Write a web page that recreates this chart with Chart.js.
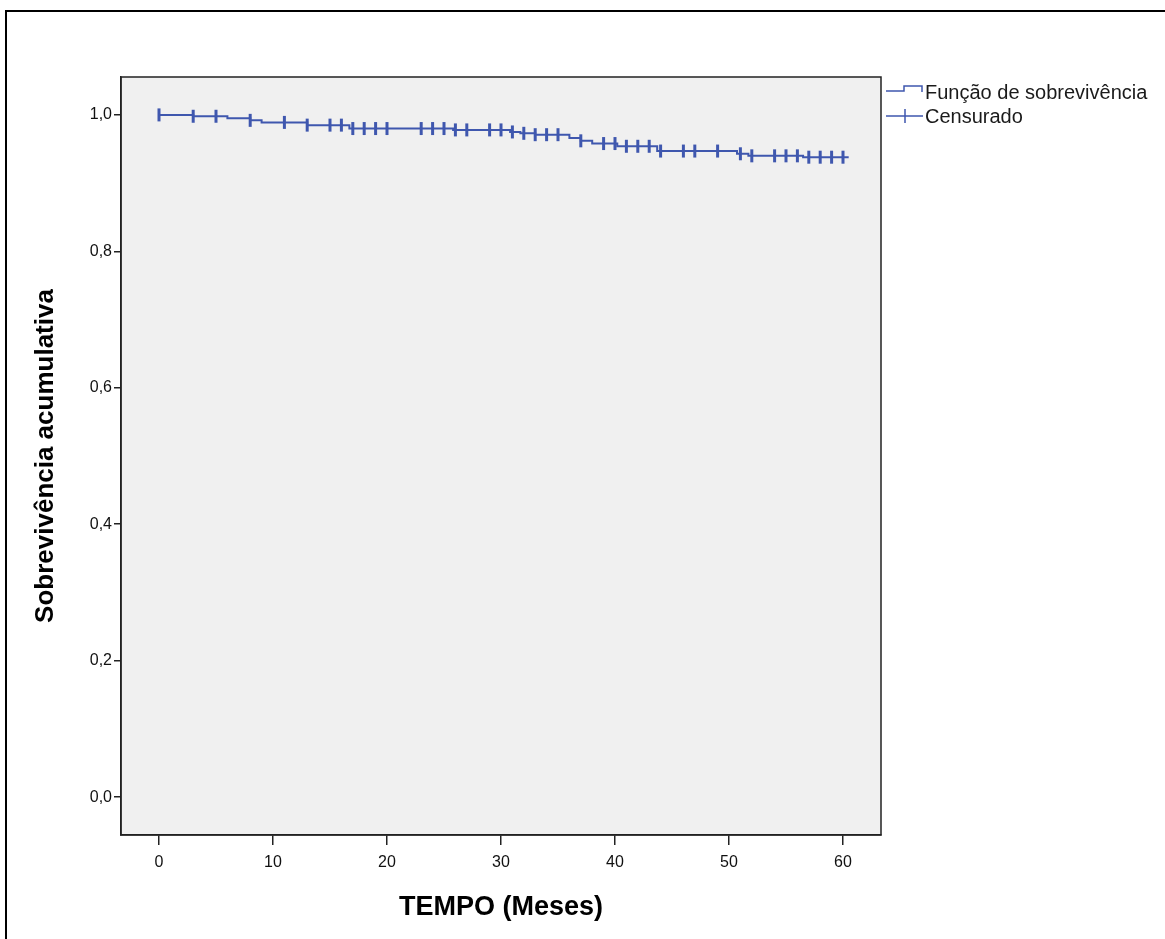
<!DOCTYPE html>
<html><head><meta charset="utf-8">
<script src="https://cdn.jsdelivr.net/npm/chart.js@4.4.0/dist/chart.umd.min.js"></script>
<style>html,body{margin:0;padding:0;background:#fff;} canvas{display:block;}</style>
</head><body>
<canvas id="c" width="1165" height="939"></canvas>
<script>
// Kaplan-Meier step function: event times and survival after each event
const eventTimes     = [0,     3,     6,     8,     9,     13,    16.7,  25.8,  30.8,  31.7,  33,    36,    37,    38,    40.2,  43.7,  50.7,  51.7,  56.5,  60.5];
const survivalValues = [1.000, 0.998, 0.995, 0.992, 0.989, 0.985, 0.980, 0.978, 0.975, 0.973, 0.971, 0.966, 0.962, 0.958, 0.954, 0.947, 0.943, 0.940, 0.938, 0.938];
// Censored observation times
const censorTimes = [0,3,5,8,11,13,15,16,17,18,19,20,23,24,25,26,27,29,30,31,32,33,34,35,37,39,40,41,42,43,44,46,47,49,51,52,54,55,56,57,58,59,60];
const xTickValues = [0,10,20,30,40,50,60];
const xTickLabels = ['0','10','20','30','40','50','60'];
const yTickValues = [0,0.2,0.4,0.6,0.8,1.0];
const yTickLabels = ['0,0','0,2','0,4','0,6','0,8','1,0'];
const legendLabels = ['Função de sobrevivência','Censurado'];
const xAxisTitle = 'TEMPO (Meses)';
const yAxisTitle = 'Sobrevivência acumulativa';

const BLUE = '#3F57AE';
const FONT = '"Liberation Sans", Arial, sans-serif';

function survivalAt(t){
  let s = survivalValues[0];
  for (let i = 0; i < eventTimes.length; i++) { if (eventTimes[i] <= t) s = survivalValues[i]; }
  return s;
}

const framePlugin = {
  id: 'frame',
  beforeDraw(chart){
    const ctx = chart.ctx, a = chart.chartArea;
    ctx.save();
    ctx.fillStyle = '#fff';
    ctx.fillRect(0,0,chart.width,chart.height);
    ctx.strokeStyle = '#000'; ctx.lineWidth = 2;
    ctx.beginPath(); ctx.moveTo(6, chart.height+2); ctx.lineTo(6, 11); ctx.lineTo(chart.width+2, 11); ctx.stroke();
    ctx.fillStyle = '#F0F0F0';
    ctx.fillRect(a.left, a.top, a.right-a.left, a.bottom-a.top);
    ctx.restore();
  },
  afterDraw(chart){
    const ctx = chart.ctx, a = chart.chartArea;
    ctx.save();
    ctx.strokeStyle = '#222'; ctx.lineWidth = 1.5;
    ctx.strokeRect(a.left, a.top, a.right-a.left, a.bottom-a.top);
    // legend
    const lx = a.right + 5;
    ctx.strokeStyle = BLUE; ctx.lineWidth = 1.5;
    ctx.beginPath();
    ctx.moveTo(lx, 91); ctx.lineTo(lx+18, 91); ctx.lineTo(lx+18, 86); ctx.lineTo(lx+36, 86); ctx.lineTo(lx+36, 92);
    ctx.stroke();
    ctx.beginPath();
    ctx.moveTo(lx, 116); ctx.lineTo(lx+37, 116);
    ctx.moveTo(lx+19, 109); ctx.lineTo(lx+19, 123);
    ctx.stroke();
    ctx.fillStyle = '#1a1a1a';
    ctx.font = '20px ' + FONT;
    ctx.textBaseline = 'middle'; ctx.textAlign = 'left';
    ctx.fillText(legendLabels[0], lx+39, 93);
    ctx.fillText(legendLabels[1], lx+39, 117);
    ctx.restore();
  }
};

new Chart(document.getElementById('c'), {
  type: 'line',
  data: {
    datasets: [
      {
        label: legendLabels[0],
        data: eventTimes.map((t,i)=>({x:t, y:survivalValues[i]})),
        stepped: true,
        borderColor: BLUE,
        borderWidth: 2,
        pointRadius: 0,
        fill: false
      },
      {
        type: 'scatter',
        label: legendLabels[1],
        data: censorTimes.map(t=>({x:t, y:survivalAt(t)})),
        pointStyle: 'line',
        rotation: 90,
        pointRadius: 6.5,
        pointBorderWidth: 3,
        borderWidth: 3,
        borderColor: BLUE,
        backgroundColor: BLUE,
        showLine: false
      }
    ]
  },
  options: {
    responsive: false,
    animation: false,
    devicePixelRatio: 1,
    layout: { padding: { left: 0, top: 77, right: 284, bottom: 0 } },
    plugins: { legend: { display: false }, tooltip: { enabled: false } },
    scales: {
      x: {
        type: 'linear',
        min: -10/3, max: 190/3,
        afterBuildTicks: s => { s.ticks = xTickValues.map(v=>({value:v})); },
        afterFit: s => { s.height = 104; },
        ticks: {
          callback: (v,i) => xTickLabels[i],
          font: { family: FONT, size: 16 },
          color: '#111',
          padding: 8,
          maxRotation: 0,
          autoSkip: false
        },
        grid: { drawOnChartArea: false, drawTicks: true, tickLength: 10, color: '#222', lineWidth: 1.5 },
        border: { display: true, color: '#222', width: 1.5 },
        title: { display: true, text: xAxisTitle, color: '#000',
                 font: { family: FONT, size: 27, weight: 'bold' }, padding: { top: 0, bottom: 15 } }
      },
      y: {
        type: 'linear',
        min: -1/18, max: 19/18,
        afterBuildTicks: s => { s.ticks = yTickValues.map(v=>({value:v})); },
        afterFit: s => { s.width = 121; },
        ticks: {
          callback: (v,i) => yTickLabels[i],
          font: { family: FONT, size: 16 },
          color: '#111',
          padding: 2,
          autoSkip: false
        },
        grid: { drawOnChartArea: false, drawTicks: true, tickLength: 7, color: '#222', lineWidth: 1.5 },
        border: { display: true, color: '#222', width: 1.5 },
        title: { display: true, text: yAxisTitle, color: '#000',
                 font: { family: FONT, size: 26, weight: 'bold' }, padding: { top: 30, bottom: 0 } }
      }
    }
  },
  plugins: [framePlugin]
});
</script>
</body></html>
